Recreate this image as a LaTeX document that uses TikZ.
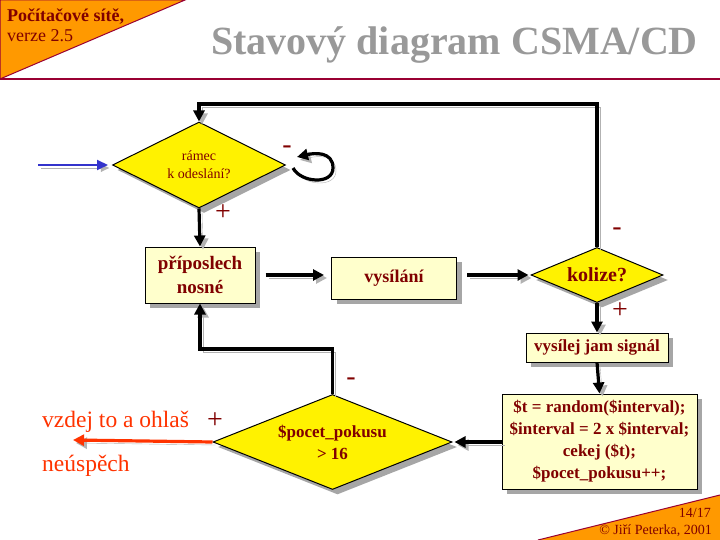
\documentclass[tikz,border=0pt]{standalone}
\usepackage{fontspec}
\setmainfont{Liberation Serif}
\usetikzlibrary{shapes.geometric, arrows.meta, shadows, positioning}
\definecolor{tmavocervena}{HTML}{800000}
\definecolor{linka}{HTML}{990033}
\definecolor{oranzova}{HTML}{FF9900}
\definecolor{svetlezluta}{HTML}{FFFFCC}
\definecolor{cervena}{HTML}{FF3300}
\definecolor{modra}{HTML}{3333CC}
\tikzset{
    stin/.style = {
        drop shadow={shadow xshift=5pt, shadow yshift=-5pt, fill=black!35, opacity=1}
    },
    krabice/.style = {
        rectangle, draw, line width=1pt,
        fill=svetlezluta, stin,
        text=tmavocervena, align=center,
        font=\fontsize{17}{20}\selectfont\bfseries,
        inner sep=0pt
    },
    rozhodnuti/.style = {
        diamond, draw, line width=1pt,
        fill=yellow, stin,
        text=tmavocervena, align=center,
        inner sep=0pt
    },
    sipka/.style = {
        -{Triangle[length=11pt,width=11pt]}, line width=3.2pt,
        preaction={draw=black!30, transform canvas={shift={(3pt,-3pt)}}}
    },
    znamenko/.style = {
        text=tmavocervena, font=\fontsize{28}{28}\selectfont
    }
}

\begin{document}
\begin{tikzpicture}[x=1pt, y=-1pt]
\useasboundingbox (0,0) rectangle (720,540);

% zahlavi a zapati
\fill[oranzova] (0,0) -- (185,0) -- (0,79) -- cycle;
\draw[linka, line width=1pt] (0,79) -- (0,0) -- (185,0) -- cycle;
\draw[linka, line width=2pt] (0,79.5) -- (720,79.5);
\node (kurz) [anchor=base west, text=tmavocervena, inner sep=0pt, font=\fontsize{18}{18}\selectfont\bfseries] at (7,22) {Počítačové sítě,};
\node (verze) [anchor=base west, text=tmavocervena, inner sep=0pt, font=\fontsize{18}{18}\selectfont] at (7,42) {verze 2.5};
\node (nadpis) [anchor=base east, text=black!40, inner sep=0pt, font=\fontsize{40}{40}\selectfont\bfseries] at (698,55) {Stavový diagram CSMA/CD};
\fill[oranzova] (538,540) -- (720,495) -- (720,540) -- cycle;
\draw[linka, line width=1pt] (538,540) -- (720,495);
\node (strana) [anchor=base east, text=tmavocervena, inner sep=0pt, font=\fontsize{14}{14}\selectfont] at (711,517) {14/17};
\node (autor) [anchor=base east, text=tmavocervena, inner sep=0pt, font=\fontsize{14}{14}\selectfont] at (712,534) {© Jiří Peterka, 2001};

% uzly
\node (ramec) [rozhodnuti, aspect=2, minimum width=173pt, minimum height=86pt, font=\fontsize{14}{18}\selectfont] at (199,165) {rámec\\k odeslání?};
\node (posl) [krabice, minimum width=110pt, minimum height=56pt, font=\fontsize{19}{24}\selectfont\bfseries] at (200,275) {příposlech\\nosné};
\node (vys) [krabice, minimum width=125pt, minimum height=42pt, font=\fontsize{18}{20}\selectfont\bfseries] at (394,278) {vysílání};
\node (kol) [rozhodnuti, aspect=2.4, minimum width=132pt, minimum height=55pt, font=\fontsize{20}{20}\selectfont\bfseries] at (597,275) {kolize?};
\node (jam) [krabice, minimum width=142pt, minimum height=29pt] at (597,347.5) {vysílej jam signál};
\node (cekej) [krabice, minimum width=195pt, minimum height=95pt, font=\fontsize{17}{22}\selectfont\bfseries] at (599.5,441.5) {\$t = random(\$interval);\\\$interval = 2 x \$interval;\\cekej (\$t);\\\$pocet\_pokusu++;};
\node (pokus) [rozhodnuti, aspect=2.5, minimum width=239pt, minimum height=95pt, font=\fontsize{17}{22}\selectfont\bfseries] at (332.5,442) {\$pocet\_pokusu\\> 16};

\coordinate (vstup) at (38,165);
\coordinate (konec) at (73,440);

% spoje
\draw[sipka, modra, line width=2pt, -{Triangle[length=11pt,width=10pt]}] (vstup) -- ([xshift=-4pt]ramec.west);
\draw[sipka] ([xshift=7pt, yshift=-3pt]ramec.east) .. controls +(8,15) and +(0,17) .. ([xshift=47pt, yshift=-3pt]ramec.east) .. controls +(0,-17) and +(17,-4) .. ([xshift=11pt, yshift=8pt]ramec.east);
\draw[sipka] (ramec.south) -- (posl.north);
\draw[sipka, shorten <=10pt, shorten >=7pt] (posl.east) -- (posl.east -| vys.west);
\draw[sipka, shorten <=10pt, shorten >=2pt] (vys.east |- kol) -- (kol.west);
\draw[sipka] (kol.north) -- ++(0,-143) -| (ramec.north);
\draw[sipka] (kol.south) -- (jam.north);
\draw[sipka] (jam.south) -- (cekej.north);
\draw[sipka, shorten >=2pt] (cekej.west |- pokus) -- (pokus.east);
\draw[sipka] (pokus.north) -- ++(0,-45) -| (posl.south);
\draw[sipka, cervena] (pokus.west) -- (konec);

% popisky
\node (m1) [znamenko] at (287,150) {-};
\node (p1) [znamenko] at (223,213) {+};
\node (m2) [znamenko] at (617,232) {-};
\node (p2) [znamenko] at (620,311) {+};
\node (m3) [znamenko] at (351,382) {-};
\node (p3) [znamenko] at (215,421) {+};
\node (vzdej) [anchor=base west, inner sep=0pt, text=cervena, font=\fontsize{23.5}{23.5}\selectfont] at (42,427) {vzdej to a ohlaš};
\node (neusp) [anchor=base west, inner sep=0pt, text=cervena, font=\fontsize{23.5}{23.5}\selectfont] at (42,471) {neúspěch};

\end{tikzpicture}
\end{document}
